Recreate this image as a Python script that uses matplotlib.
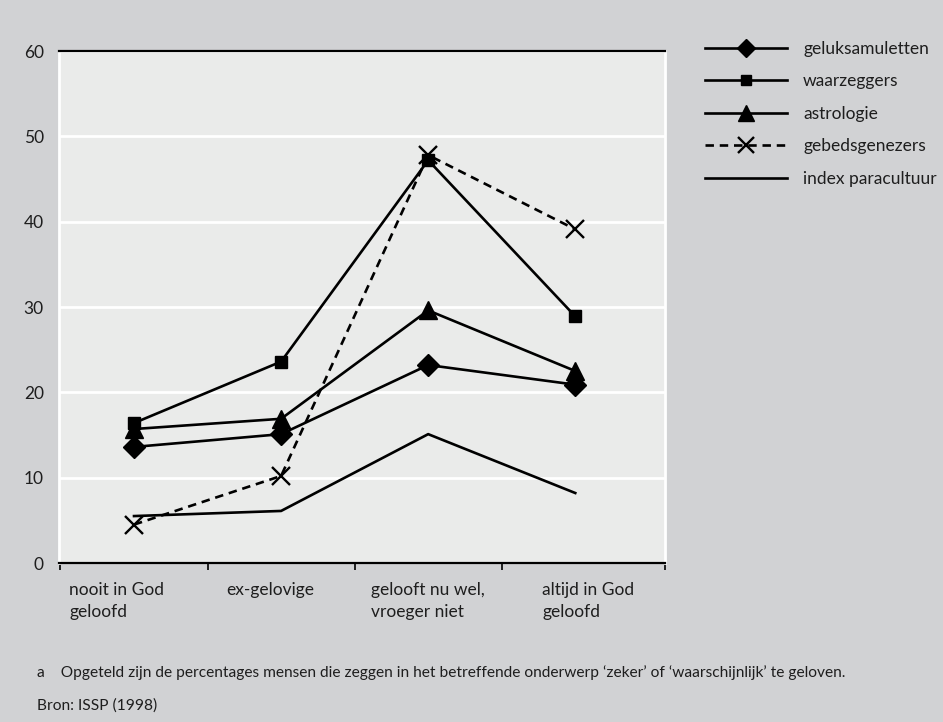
import matplotlib
matplotlib.use("Agg")
import matplotlib.pyplot as plt
from matplotlib.lines import Line2D

plt.rcParams['font.family'] = ['Lato', 'DejaVu Sans']

categories = ["nooit in God\ngeloofd", "ex-gelovige", "gelooft nu wel,\nvroeger niet", "altijd in God\ngeloofd"]
geluksamuletten = [13.6, 15.1, 23.2, 20.9]
waarzeggers = [16.4, 23.6, 47.2, 28.9]
astrologie = [15.7, 16.9, 29.6, 22.5]
gebedsgenezers = [4.5, 10.2, 47.8, 39.1]
index_paracultuur = [5.5, 6.1, 15.1, 8.2]
yticks = [0, 10, 20, 30, 40, 50, 60]
series_names = ["geluksamuletten", "waarzeggers", "astrologie", "gebedsgenezers", "index paracultuur"]
footnote = "a    Opgeteld zijn de percentages mensen die zeggen in het betreffende onderwerp \u2018zeker\u2019 of \u2018waarschijnlijk\u2019 te geloven."
source = "Bron: ISSP (1998)"

FIG_BG = "#d1d2d4"
AX_BG = "#eaebea"
TXT = "#1e1e1e"

W, H = 943, 722
fig = plt.figure(figsize=(W / 100, H / 100), dpi=100)
fig.patch.set_facecolor(FIG_BG)

left, right, top, bottom = 59, 665, 51, 563
ax = fig.add_axes([left / W, (H - bottom) / H, (right - left) / W, (bottom - top) / H])
ax.set_facecolor(AX_BG)

x = list(range(len(categories)))
lw = 1.9
ax.plot(x, index_paracultuur, color="black", lw=lw, zorder=3)
ax.plot(x, geluksamuletten, color="black", lw=lw, marker="D", ms=11, zorder=4)
ax.plot(x, astrologie, color="black", lw=lw, marker="^", ms=13.5, zorder=4)
ax.plot(x, waarzeggers, color="black", lw=lw, marker="s", ms=8.5, zorder=4)
ax.plot(x, gebedsgenezers, color="black", lw=lw, ls=(0, (3.2, 2.2)), marker="x", ms=13,
        mew=1.7, zorder=5)

ax.set_xlim(-0.51, 3.61)
ax.set_ylim(0, 60)
ax.set_yticks(yticks)
ax.set_yticklabels([str(v) for v in yticks], fontsize=12.5, color=TXT)
ax.tick_params(axis="y", length=0, pad=11)
ax.grid(axis="y", color="white", lw=2)
ax.set_axisbelow(True)

# x axis: ticks at category boundaries, labels placed below
ax.set_xticks([-0.5, 0.5, 1.5, 2.5, 3.61])
ax.set_xticklabels([])
ax.tick_params(axis="x", direction="out", length=5, width=1.2, color="black")
label_offsets = [0.06, 0.126, 0.11, 0.276]
for i, (lab, off) in enumerate(zip(categories, label_offsets)):
    ax.text(i - 0.5 + off, -2.2, lab, ha="left", va="top", fontsize=12.5,
            color=TXT, linespacing=1.5, transform=ax.transData)

for side in ["left", "right"]:
    ax.spines[side].set_color("white")
    ax.spines[side].set_linewidth(2)
ax.spines["top"].set_color("black")
ax.spines["top"].set_linewidth(1.6)
ax.spines["bottom"].set_color("black")
ax.spines["bottom"].set_linewidth(1.6)

handles = [
    Line2D([], [], color="black", lw=lw, marker="D", ms=9),
    Line2D([], [], color="black", lw=lw, marker="s", ms=7.5),
    Line2D([], [], color="black", lw=lw, marker="^", ms=11.5),
    Line2D([], [], color="black", lw=lw, ls=(0, (3.2, 2.2)), marker="x", ms=11, mew=1.7),
    Line2D([], [], color="black", lw=lw),
]
fs = 12.5
fs_px = fs * 100 / 72
leg = fig.legend(handles, series_names, loc="upper left",
                 bbox_to_anchor=(705 / W, 1 - 41 / H), frameon=False,
                 fontsize=fs, handlelength=82 / fs_px, handletextpad=16 / fs_px,
                 labelspacing=0.95, borderaxespad=0, borderpad=0)
for t in leg.get_texts():
    t.set_color(TXT)

fig.text(37 / W, 1 - 673 / H, footnote, ha="left", va="center", fontsize=11.2, color=TXT)
fig.text(37 / W, 1 - 706 / H, source, ha="left", va="center", fontsize=11.2, color=TXT)

fig.savefig("out.png", dpi=100, facecolor=FIG_BG)
